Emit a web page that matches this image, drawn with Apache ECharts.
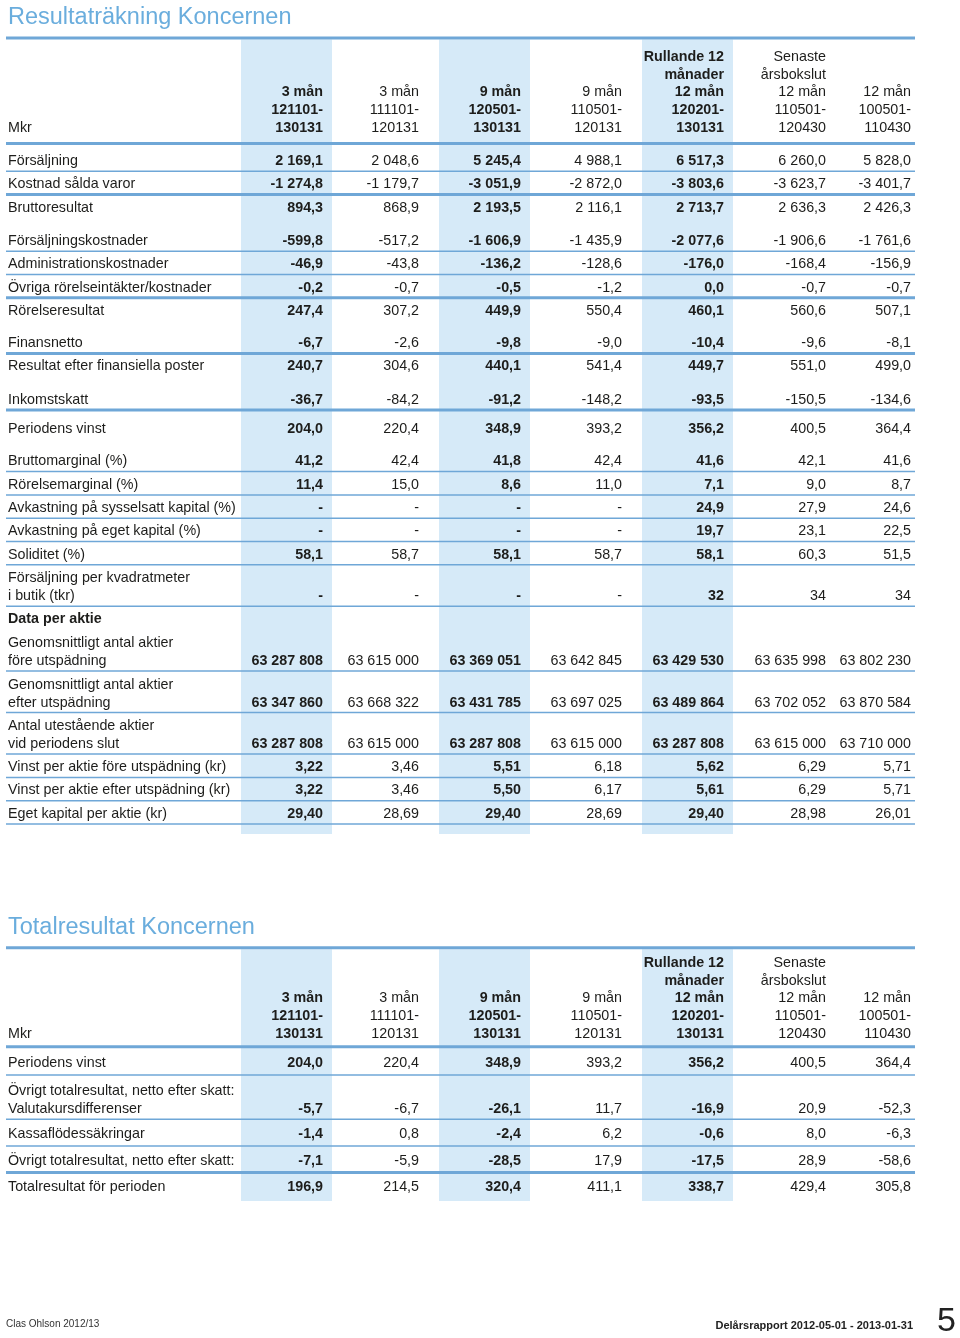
<!DOCTYPE html>
<html><head><meta charset="utf-8">
<script src="https://cdn.jsdelivr.net/npm/echarts@6/dist/echarts.min.js"></script>
<style>html,body{margin:0;padding:0;background:#fff}#c{width:960px;height:1338px}</style>
</head><body><div id="c"></div>
<script>
// ================= DATA =================
const title1 = 'Resultaträkning Koncernen';
const title2 = 'Totalresultat Koncernen';
const unitLabel = 'Mkr';
const footerLeft = 'Clas Ohlson 2012/13';
const footerRight = 'Delårsrapport 2012-05-01 - 2013-01-31';
const pageNumber = '5';

const columnHeaders = [
  ['3 mån', '121101-', '130131'],
  ['3 mån', '111101-', '120131'],
  ['9 mån', '120501-', '130131'],
  ['9 mån', '110501-', '120131'],
  ['Rullande 12', 'månader', '12 mån', '120201-', '130131'],
  ['Senaste', 'årsbokslut', '12 mån', '110501-', '120430'],
  ['12 mån', '100501-', '110430']
];

const rowLabels1 = [
  'Försäljning', 'Kostnad sålda varor', 'Bruttoresultat',
  'Försäljningskostnader', 'Administrationskostnader', 'Övriga rörelseintäkter/kostnader', 'Rörelseresultat',
  'Finansnetto', 'Resultat efter finansiella poster',
  'Inkomstskatt', 'Periodens vinst',
  'Bruttomarginal (%)', 'Rörelsemarginal (%)', 'Avkastning på sysselsatt kapital (%)', 'Avkastning på eget kapital (%)',
  'Soliditet (%)', 'Försäljning per kvadratmeter\ni butik (tkr)',
  'Data per aktie',
  'Genomsnittligt antal aktier\nföre utspädning', 'Genomsnittligt antal aktier\nefter utspädning',
  'Antal utestående aktier\nvid periodens slut',
  'Vinst per aktie före utspädning (kr)', 'Vinst per aktie efter utspädning (kr)', 'Eget kapital per aktie (kr)'
];
const sectionRows1 = ['Data per aktie'];

const q3_1213 = ['2 169,1','-1 274,8','894,3','-599,8','-46,9','-0,2','247,4','-6,7','240,7','-36,7','204,0','41,2','11,4','-','-','58,1','-','','63 287 808','63 347 860','63 287 808','3,22','3,22','29,40'];
const q3_1112 = ['2 048,6','-1 179,7','868,9','-517,2','-43,8','-0,7','307,2','-2,6','304,6','-84,2','220,4','42,4','15,0','-','-','58,7','-','','63 615 000','63 668 322','63 615 000','3,46','3,46','28,69'];
const m9_1213 = ['5 245,4','-3 051,9','2 193,5','-1 606,9','-136,2','-0,5','449,9','-9,8','440,1','-91,2','348,9','41,8','8,6','-','-','58,1','-','','63 369 051','63 431 785','63 287 808','5,51','5,50','29,40'];
const m9_1112 = ['4 988,1','-2 872,0','2 116,1','-1 435,9','-128,6','-1,2','550,4','-9,0','541,4','-148,2','393,2','42,4','11,0','-','-','58,7','-','','63 642 845','63 697 025','63 615 000','6,18','6,17','28,69'];
const r12_1213 = ['6 517,3','-3 803,6','2 713,7','-2 077,6','-176,0','0,0','460,1','-10,4','449,7','-93,5','356,2','41,6','7,1','24,9','19,7','58,1','32','','63 429 530','63 489 864','63 287 808','5,62','5,61','29,40'];
const fy_1112 = ['6 260,0','-3 623,7','2 636,3','-1 906,6','-168,4','-0,7','560,6','-9,6','551,0','-150,5','400,5','42,1','9,0','27,9','23,1','60,3','34','','63 635 998','63 702 052','63 615 000','6,29','6,29','28,98'];
const fy_1011 = ['5 828,0','-3 401,7','2 426,3','-1 761,6','-156,9','-0,7','507,1','-8,1','499,0','-134,6','364,4','41,6','8,7','24,6','22,5','51,5','34','','63 802 230','63 870 584','63 710 000','5,71','5,71','26,01'];

const rowLabels2 = [
  'Periodens vinst',
  'Övrigt totalresultat, netto efter skatt:\nValutakursdifferenser',
  'Kassaflödessäkringar',
  'Övrigt totalresultat, netto efter skatt:',
  'Totalresultat för perioden'
];
const t2_q3_1213 = ['204,0','-5,7','-1,4','-7,1','196,9'];
const t2_q3_1112 = ['220,4','-6,7','0,8','-5,9','214,5'];
const t2_m9_1213 = ['348,9','-26,1','-2,4','-28,5','320,4'];
const t2_m9_1112 = ['393,2','11,7','6,2','17,9','411,1'];
const t2_r12_1213 = ['356,2','-16,9','-0,6','-17,5','338,7'];
const t2_fy_1112 = ['400,5','20,9','8,0','28,9','429,4'];
const t2_fy_1011 = ['364,4','-52,3','-6,3','-58,6','305,8'];

const boldColumns = [true, false, true, false, true, false, false];

// ================= LAYOUT / STYLE =================
const FONT = '"Liberation Sans", Arial, Helvetica, sans-serif';
const FS = 14.3;
const TEXT = '#1d1d1b';
const LINE = '#6fa7d7';
const SHADE = '#d6eaf8';
const TITLE = '#6aaddd';
const colRight = [323, 419, 521, 622, 724, 826, 911];
const labelX = 8, ruleX0 = 6, ruleX1 = 915, shadeL = 82, shadeR = 9;
const THICK = 3, THIN = 1.5;
const TEXT_DY = 1;

const tables = [
  { title: title1, labels: rowLabels1, section: sectionRows1,
    columns: [q3_1213, q3_1112, m9_1213, m9_1112, r12_1213, fy_1112, fy_1011],
    top: 38, headerH: 105.5, headerLast: 16.5, headerStep: 17.8, h1: 23.3, h2: 41.5,
    border: [2,1,2,0,1,1,2,0,2,0,2,0,1,1,1,1,1,1,0,1,1,1,1,1],
    gap:    [4.5,0,0,10,0,0,0,9,0,10,6,9,0,0,0,0,0,0,0,0,0,0,0,0],
    bottomRule: true, shadeExtra: 10 },
  { title: title2, labels: rowLabels2, section: [],
    columns: [t2_q3_1213, t2_q3_1112, t2_m9_1213, t2_m9_1112, t2_r12_1213, t2_fy_1112, t2_fy_1011],
    top: 947.7, headerH: 99, headerLast: 13.7, headerStep: 17.8, h1: 26.7, h2: 44.3,
    border: [2,1,1,1,2], gap: [1.5,0,0,0,0],
    bottomRule: false, shadeExtra: 1.7 }
];

// ================= BUILD MARKS =================
const texts = [], rules = [], shades = [], titles = [];
tables.forEach(function (t) {
  titles.push({ text: t.title, y: t.top - 22 });
  rules.push({ x0: ruleX0, x1: ruleX1, y: t.top, w: THICK });
  const hb = t.top + t.headerH;
  const lastLine = hb - t.headerLast + TEXT_DY;
  texts.push({ x: labelX, y: lastLine, text: unitLabel, align: 'left', bold: false });
  columnHeaders.forEach(function (lines, c) {
    lines.forEach(function (s, k) {
      texts.push({ x: colRight[c], y: lastLine - (lines.length - 1 - k) * t.headerStep, text: s, align: 'right', bold: boldColumns[c] });
    });
  });
  let y = hb;
  t.labels.forEach(function (label, i) {
    if (t.border[i]) rules.push({ x0: ruleX0, x1: ruleX1, y: y, w: t.border[i] === 2 ? THICK : THIN });
    y += t.gap[i];
    const parts = label.split('\n');
    const H = parts.length > 1 ? t.h2 : t.h1;
    const bottom = y + H;
    const last = (parts.length > 1 ? bottom - 11 : y + H / 2 + 0.5) + TEXT_DY;
    parts.forEach(function (s, k) {
      texts.push({ x: labelX, y: last - (parts.length - 1 - k) * 17.8, text: s, align: 'left', bold: t.section.indexOf(label) >= 0 });
    });
    t.columns.forEach(function (col, c) {
      if (col[i] !== '') texts.push({ x: colRight[c], y: last, text: col[i], align: 'right', bold: boldColumns[c] });
    });
    y = bottom;
  });
  if (t.bottomRule) rules.push({ x0: ruleX0, x1: ruleX1, y: y, w: THIN });
  boldColumns.forEach(function (b, c) {
    if (b) shades.push({ x0: colRight[c] - shadeL, x1: colRight[c] + shadeR, y0: t.top + THICK / 2, y1: y + t.shadeExtra });
  });
});

// ================= CHART =================
const chart = echarts.init(document.getElementById('c'), null, { renderer: 'canvas' });
chart.setOption({
  animation: false,
  backgroundColor: '#fff',
  title: titles.map(function (tt) {
    return { text: tt.text, left: 8, top: tt.y - 10, padding: 0,
      textStyle: { fontFamily: FONT, fontSize: 23.5, fontWeight: 'normal', color: TITLE, lineHeight: 24 } };
  }).concat([
    { text: footerLeft, left: 6, top: 1319, padding: 0, textStyle: { fontFamily: FONT, fontSize: 10, fontWeight: 'normal', color: '#333', lineHeight: 11 } },
    { text: footerRight, right: 47, top: 1319.5, padding: 0, textStyle: { fontFamily: FONT, fontSize: 11, fontWeight: 'bold', color: '#222', lineHeight: 12 } },
    { text: pageNumber, right: 4, top: 1305, padding: 0, textStyle: { fontFamily: FONT, fontSize: 34, fontWeight: 'normal', color: '#222', lineHeight: 34 } }
  ]),
  grid: { left: 0, right: 0, top: 0, bottom: 0 },
  xAxis: { type: 'value', min: 0, max: 960, show: false },
  yAxis: { type: 'value', min: 0, max: 1338, inverse: true, show: false },
  series: [
    { type: 'custom', silent: true, z: 1,
      data: shades.map(function (s) { return [s.x0, s.y0, s.x1, s.y1]; }),
      renderItem: function (p, api) {
        const a = api.coord([api.value(0), api.value(1)]);
        const b = api.coord([api.value(2), api.value(3)]);
        return { type: 'rect', shape: { x: a[0], y: a[1], width: b[0] - a[0], height: b[1] - a[1] }, style: { fill: SHADE } };
      } },
    { type: 'custom', silent: true, z: 2,
      data: rules.map(function (r) { return [r.x0, r.y, r.x1, r.w]; }),
      renderItem: function (p, api) {
        const a = api.coord([api.value(0), api.value(1)]);
        const b = api.coord([api.value(2), api.value(1)]);
        const w = api.value(3);
        return { type: 'rect', shape: { x: a[0], y: a[1] - w / 2, width: b[0] - a[0], height: w }, style: { fill: LINE } };
      } },
    { type: 'custom', silent: true, z: 3,
      data: texts.map(function (d) { return [d.x, d.y]; }),
      renderItem: function (p, api) {
        const d = texts[p.dataIndex];
        const a = api.coord([api.value(0), api.value(1)]);
        return { type: 'text', style: { text: d.text, x: a[0], y: a[1], align: d.align, verticalAlign: 'middle',
          fill: TEXT, fontFamily: FONT, fontSize: FS, fontWeight: d.bold ? 'bold' : 'normal' } };
      } }
  ]
});
</script>
</body></html>
